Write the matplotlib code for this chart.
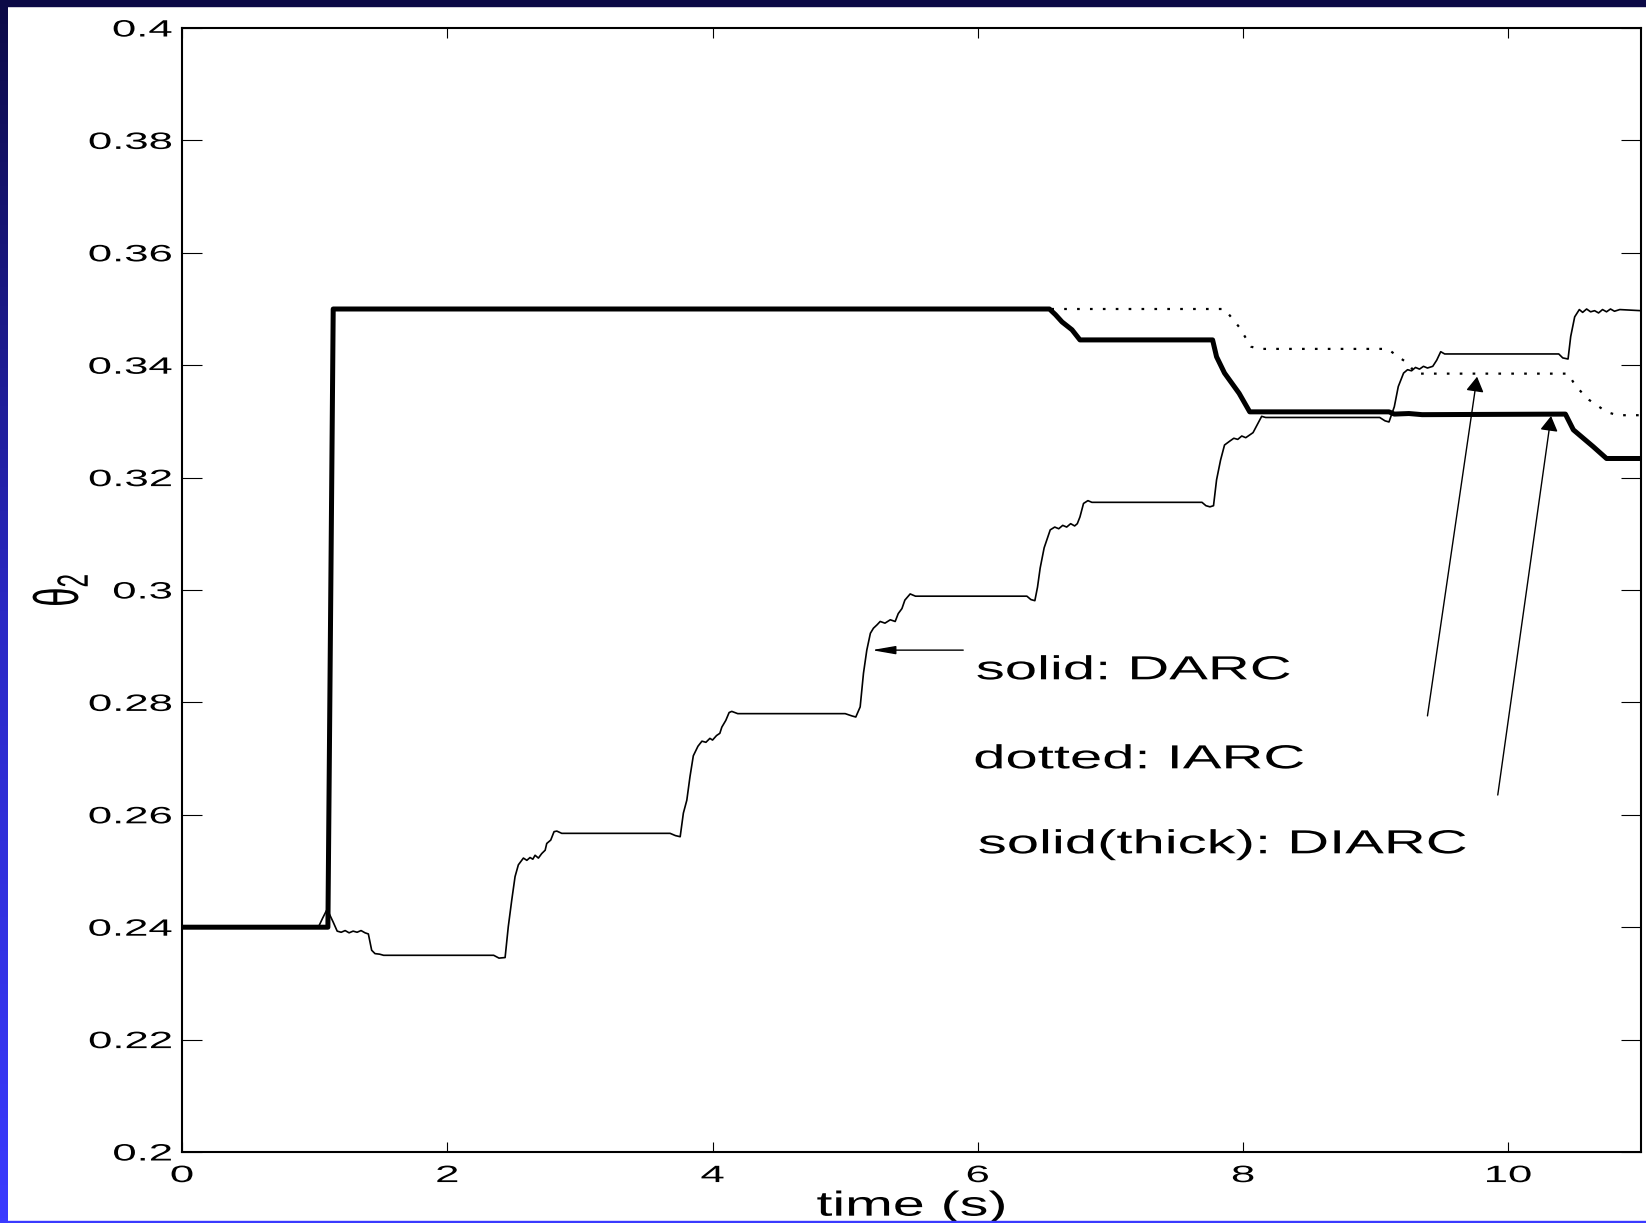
import matplotlib
matplotlib.use('Agg')
import matplotlib.pyplot as plt
import numpy as np
from matplotlib.patheffects import AbstractPathEffect
from matplotlib.transforms import Affine2D
from matplotlib.colors import LinearSegmentedColormap
from matplotlib.patches import Rectangle

plt.rcParams['font.family'] = ['Liberation Sans', 'DejaVu Sans']
plt.rcParams['mathtext.fontset'] = 'custom'
plt.rcParams['mathtext.rm'] = 'Liberation Sans'
plt.rcParams['mathtext.it'] = 'Liberation Sans'

t_darc = (
    [0.00, 1.00, 1.03, 1.06, 1.09, 1.11, 1.14, 1.17, 1.20, 1.23, 1.26, 1.29, 1.32, 1.35, 1.38, 1.405, 1.43, 1.455, 1.49, 1.52]
    + [2.35, 2.39, 2.436, 2.46, 2.486, 2.511, 2.536, 2.574, 2.60, 2.624, 2.645, 2.662, 2.687, 2.712, 2.738, 2.750, 2.78, 2.805, 2.826, 2.863]
    + [3.68, 3.72, 3.756, 3.78, 3.806, 3.83, 3.855, 3.89, 3.92, 3.95, 3.98, 4.00, 4.03, 4.055, 4.07, 4.10, 4.125, 4.145, 4.19]
    + [5.00, 5.05, 5.08, 5.113, 5.138, 5.163, 5.19, 5.213, 5.24, 5.264, 5.30, 5.34, 5.377, 5.40, 5.428, 5.45, 5.49, 5.53]
    + [6.37, 6.40, 6.43, 6.45, 6.47, 6.50, 6.546, 6.58, 6.61, 6.64, 6.67, 6.70, 6.73, 6.75, 6.77, 6.797, 6.83, 6.86]
    + [7.69, 7.72, 7.75, 7.777, 7.80, 7.83, 7.86, 7.90, 7.93, 7.96, 7.99, 8.02, 8.05, 8.075, 8.10, 8.14, 8.17]
    + [9.03, 9.07, 9.10, 9.14, 9.17, 9.21, 9.24, 9.27, 9.30, 9.33, 9.36, 9.39, 9.43, 9.46, 9.49, 9.52]
    + [10.38, 10.41, 10.45, 10.47, 10.50, 10.535, 10.56, 10.59, 10.62, 10.65, 10.68, 10.71, 10.74, 10.77, 10.80, 10.84, 11.00]
)
th_darc = (
    [0.2400, 0.2400, 0.2401, 0.2416, 0.2430, 0.2424, 0.2409, 0.2393, 0.2391, 0.2394, 0.2390, 0.2393, 0.2391, 0.2394, 0.2390, 0.2388, 0.2359, 0.2353, 0.2352, 0.2350]
    + [0.2350, 0.2345, 0.2346, 0.2401, 0.2448, 0.2490, 0.2511, 0.2523, 0.2519, 0.2524, 0.2521, 0.2528, 0.2523, 0.2531, 0.2537, 0.2549, 0.2555, 0.2570, 0.2571, 0.2567]
    + [0.2567, 0.2563, 0.2561, 0.2603, 0.2626, 0.2668, 0.2705, 0.2722, 0.2731, 0.2729, 0.2736, 0.2733, 0.2741, 0.2745, 0.2756, 0.2768, 0.2782, 0.2784, 0.2780]
    + [0.2780, 0.2776, 0.2774, 0.2792, 0.2852, 0.2893, 0.2923, 0.2932, 0.2938, 0.2944, 0.2941, 0.2947, 0.2944, 0.2958, 0.2967, 0.2982, 0.2993, 0.2989]
    + [0.2989, 0.2983, 0.2981, 0.3005, 0.3039, 0.3075, 0.3107, 0.3112, 0.3109, 0.3115, 0.3112, 0.3118, 0.3114, 0.3118, 0.3130, 0.3154, 0.3159, 0.3156]
    + [0.3156, 0.3150, 0.3148, 0.3150, 0.3196, 0.3231, 0.3258, 0.3265, 0.3270, 0.3268, 0.3274, 0.3271, 0.3276, 0.3280, 0.3291, 0.3309, 0.3307]
    + [0.3307, 0.3301, 0.3299, 0.3326, 0.3362, 0.3386, 0.3392, 0.3390, 0.3396, 0.3393, 0.3398, 0.3395, 0.3398, 0.3409, 0.3424, 0.3420]
    + [0.3420, 0.3413, 0.3411, 0.3451, 0.3486, 0.3499, 0.3494, 0.3500, 0.3495, 0.3497, 0.3493, 0.3499, 0.3495, 0.3500, 0.3496, 0.3499, 0.3497]
)

# IARC (dotted)
t_iarc = [0.0, 1.10, 1.14, 7.86, 7.97, 8.06, 8.12, 9.09, 9.17, 9.245, 9.30, 10.45, 10.51, 10.61, 10.74, 10.82, 11.0]
th_iarc = [0.24, 0.24, 0.35, 0.35, 0.3468, 0.3433, 0.3429, 0.3429, 0.3415, 0.3403, 0.3385, 0.3385, 0.3362, 0.3338, 0.3317, 0.3311, 0.3311]

# DIARC (thick solid)
t_diarc = [0.0, 1.10, 1.14, 6.54, 6.585, 6.635, 6.71, 6.77, 7.77, 7.80, 7.86, 7.97, 8.05, 9.10, 9.14, 9.25, 9.35, 10.43, 10.49, 10.55, 10.64, 10.74, 11.0]
th_diarc = [0.24, 0.24, 0.35, 0.35, 0.3490, 0.3477, 0.3463, 0.3445, 0.3445, 0.3415, 0.3386, 0.3350, 0.3317, 0.3317, 0.3313, 0.3314, 0.3312, 0.3313, 0.3285, 0.3273, 0.3255, 0.3234, 0.3234]

x_ticks = [0, 2, 4, 6, 8, 10]
x_labels = ['0', '2', '4', '6', '8', '10']
y_ticks = [0.2, 0.22, 0.24, 0.26, 0.28, 0.3, 0.32, 0.34, 0.36, 0.38, 0.4]
y_labels = ['0.2', '0.22', '0.24', '0.26', '0.28', '0.3', '0.32', '0.34', '0.36', '0.38', '0.4']


class Widen(AbstractPathEffect):
    # the source picture is stretched sideways, so the glyphs are too
    def __init__(self, sx, anchor='center'):
        super().__init__()
        self.sx = sx
        self.anchor = anchor

    def draw_path(self, renderer, gc, tpath, affine, rgbFace=None):
        ext = affine.transform_path(tpath).get_extents()
        if self.anchor == 'left':
            x0 = ext.x0
        elif self.anchor == 'right':
            x0 = ext.x1
        else:
            x0 = (ext.x0 + ext.x1) / 2
        tr = affine + Affine2D().translate(-x0, 0).scale(self.sx, 1).translate(x0, 0)
        renderer.draw_path(gc, tpath, tr, rgbFace)


W, H = 1646, 1223
fig = plt.figure(figsize=(W / 100, H / 100), dpi=100)
fig.patch.set_facecolor('white')

# blue slide frame
side = fig.add_axes([0, 0, 8 / W, 1])
cmap = LinearSegmentedColormap.from_list('frame', ['#0c0a46', '#2a28c4', '#3a3aff'])
side.imshow(np.linspace(0, 1, 256).reshape(-1, 1), cmap=cmap, aspect='auto')
side.axis('off')
fig.add_artist(Rectangle((0, 1 - 6 / H), 1, 6 / H, transform=fig.transFigure, color='#0c0a46', zorder=5))
fig.add_artist(Rectangle((0, 0), 1, 2 / H, transform=fig.transFigure, color='#3a3aff', zorder=5))

ax = fig.add_axes([182 / W, 71 / H, 1459 / W, 1124 / H])

ax.plot(t_iarc, th_iarc, color='k', lw=1.6, ls=(0, (1.2, 4.6)), zorder=2)
ax.plot(t_diarc, th_diarc, color='k', lw=3.6, zorder=3, solid_joinstyle='round')
ax.plot(t_darc, th_darc, color='k', lw=1.2, zorder=4)

ax.set_xlim(0, 11)
ax.set_ylim(0.2, 0.4)
ax.set_xticks(x_ticks)
ax.set_xticklabels(x_labels)
ax.set_yticks(y_ticks)
ax.set_yticklabels(y_labels)
ax.tick_params(axis='x', direction='in', length=7.2, width=0.8, top=True, pad=9.4, labelsize=17)
ax.tick_params(axis='y', direction='in', length=14.4, width=0.8, right=True, pad=7.2, labelsize=17)
for s in ax.spines.values():
    s.set_linewidth(1.5)
for lab in ax.get_xticklabels():
    lab.set_path_effects([Widen(1.85, 'center')])
for lab in ax.get_yticklabels():
    lab.set_path_effects([Widen(1.85, 'right')])

ax.set_xlabel('time (s)', fontsize=25, path_effects=[Widen(1.65, 'center')])
ax.xaxis.set_label_coords(0.5, -0.0335)
ax.set_ylabel(r'$\theta_2$', fontsize=25, va='center', path_effects=[Widen(1.8, 'center')])
ax.yaxis.set_label_coords(-0.0836, 0.5)

# arrows and labels
ax.annotate('', xy=(5.20, 0.2893), xytext=(5.89, 0.2893),
            arrowprops=dict(arrowstyle='-|>,head_length=1.44,head_width=0.25', color='k', lw=1,
                            mutation_scale=10, shrinkA=0, shrinkB=0))
ax.annotate('', xy=(9.764, 0.33795), xytext=(9.39, 0.2776),
            arrowprops=dict(arrowstyle='-|>,head_length=0.91,head_width=0.54', color='k', lw=1,
                            mutation_scale=10, shrinkA=0, shrinkB=0))
ax.annotate('', xy=(10.322, 0.33096), xytext=(9.92, 0.26352),
            arrowprops=dict(arrowstyle='-|>,head_length=0.91,head_width=0.54', color='k', lw=1,
                            mutation_scale=10, shrinkA=0, shrinkB=0))

ax.text(5.99, 0.28411, 'solid: DARC', fontsize=24, ha='left', va='baseline',
        path_effects=[Widen(1.74, 'left')])
ax.text(5.973, 0.26827, 'dotted: IARC', fontsize=24, ha='left', va='baseline',
        path_effects=[Widen(1.74, 'left')])
ax.text(6.005, 0.25315, 'solid(thick): DIARC', fontsize=24, ha='left', va='baseline',
        path_effects=[Widen(1.74, 'left')])

fig.savefig('out.png', dpi=100)
